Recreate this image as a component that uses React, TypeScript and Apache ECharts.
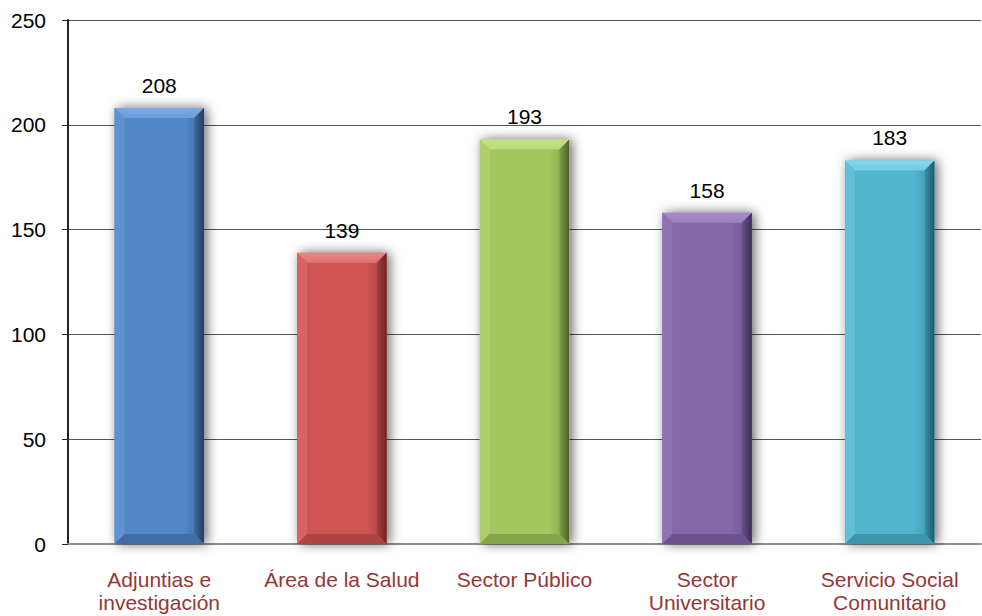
import React, { useEffect, useRef } from "react";
import * as echarts from "echarts";

const categories = [
  "Adjuntias e\ninvestigación",
  "Área de la Salud",
  "Sector Público",
  "Sector\nUniversitario",
  "Servicio Social\nComunitario",
];
const values = [208, 139, 193, 158, 183];
const baseColors = ["#5287C9", "#CF5553", "#A3C75F", "#8567AA", "#50B5CF"];
const lightColors = ["#7DAAE3", "#E98784", "#C6E387", "#A88DCA", "#86D9EE"];
const darkColors = ["#223D60", "#6A2422", "#4E6228", "#3D2D56", "#1F5968"];

export default function App() {
  const ref = useRef<HTMLDivElement>(null);
  useEffect(() => {
    if (!ref.current) return;
    const chart = echarts.init(ref.current, null, { renderer: "svg" });
    const font = "'Liberation Sans', Arial, sans-serif";
    chart.setOption({
      animation: false,
      grid: { left: 68, right: 1, top: 20, bottom: 72 },
      xAxis: {
        type: "category",
        data: categories,
        axisLine: { lineStyle: { color: "#8C8C8C", width: 2 } },
        axisTick: { show: false },
        axisLabel: {
          color: "#953735",
          fontSize: 21,
          fontFamily: font,
          margin: 24,
          lineHeight: 23,
          interval: 0,
        },
      },
      yAxis: {
        type: "value",
        min: 0,
        max: 250,
        interval: 50,
        axisLine: { show: true, lineStyle: { color: "#222", width: 2 } },
        axisTick: { show: true, length: 6, lineStyle: { color: "#222" } },
        axisLabel: { color: "#000", fontSize: 21, fontFamily: font, margin: 22 },
        splitLine: { lineStyle: { color: "#555", width: 1 } },
      },
      series: [
        {
          type: "custom",
          data: values.map((v, i) => [i, v]),
          encode: { x: 0, y: 1 },
          renderItem: (params: any, api: any) => {
            const idx = api.value(0);
            const v = api.value(1);
            const top = api.coord([idx, v]);
            const bot = api.coord([idx, 0]);
            const bw = api.size([1, 0])[0] * 0.49;
            const x0 = top[0] - bw / 2;
            const x1 = top[0] + bw / 2;
            const y0 = top[1];
            const y1 = bot[1];
            const b = 10;
            const base = baseColors[idx];
            const light = lightColors[idx];
            const dark = darkColors[idx];
            return {
              type: "group",
              children: [
                {
                  type: "rect",
                  shape: { x: x0, y: y0, width: bw, height: y1 - y0 },
                  style: {
                    fill: base,
                    shadowBlur: 12,
                    shadowColor: "rgba(0,0,0,0.6)",
                    shadowOffsetX: 3,
                    shadowOffsetY: 0,
                  },
                },
                {
                  type: "rect",
                  shape: { x: x0 + b, y: y0 + b, width: bw - 2 * b, height: y1 - y0 - 2 * b },
                  style: {
                    fill: new echarts.graphic.LinearGradient(0, 0, 1, 0, [
                      { offset: 0, color: base },
                      { offset: 0.85, color: base },
                      { offset: 1, color: echarts.color.lerp(0.2, [base, dark]) },
                    ]),
                  },
                },
                {
                  type: "polygon",
                  shape: { points: [[x0, y0], [x1, y0], [x1 - b, y0 + b], [x0 + b, y0 + b]] },
                  style: {
                    fill: new echarts.graphic.LinearGradient(0, 0, 0, 1, [
                      { offset: 0, color: light },
                      { offset: 1, color: echarts.color.lerp(0.4, [light, base]) },
                    ]),
                  },
                },
                {
                  type: "polygon",
                  shape: { points: [[x0, y0], [x0 + b, y0 + b], [x0 + b, y1 - b], [x0, y1]] },
                  style: { fill: echarts.color.lerp(0.7, [light, base]) },
                },
                {
                  type: "polygon",
                  shape: { points: [[x1, y0], [x1, y1], [x1 - b, y1 - b], [x1 - b, y0 + b]] },
                  style: {
                    fill: new echarts.graphic.LinearGradient(0, 0, 1, 0, [
                      { offset: 0, color: echarts.color.lerp(0.4, [base, dark]) },
                      { offset: 1, color: dark },
                    ]),
                  },
                },
                {
                  type: "polygon",
                  shape: { points: [[x0, y1], [x0 + b, y1 - b], [x1 - b, y1 - b], [x1, y1]] },
                  style: { fill: echarts.color.lerp(0.35, [base, dark]) },
                },
                {
                  type: "text",
                  style: {
                    x: top[0],
                    y: y0 - 12,
                    text: String(v),
                    fill: "#000",
                    fontSize: 21,
                    fontFamily: font,
                    align: "center",
                    verticalAlign: "bottom",
                  },
                },
              ],
            };
          },
        },
      ],
    });
    return () => chart.dispose();
  }, []);
  return <div ref={ref} style={{ width: 982, height: 616, position: "absolute", left: 0, top: 0 }} />;
}
